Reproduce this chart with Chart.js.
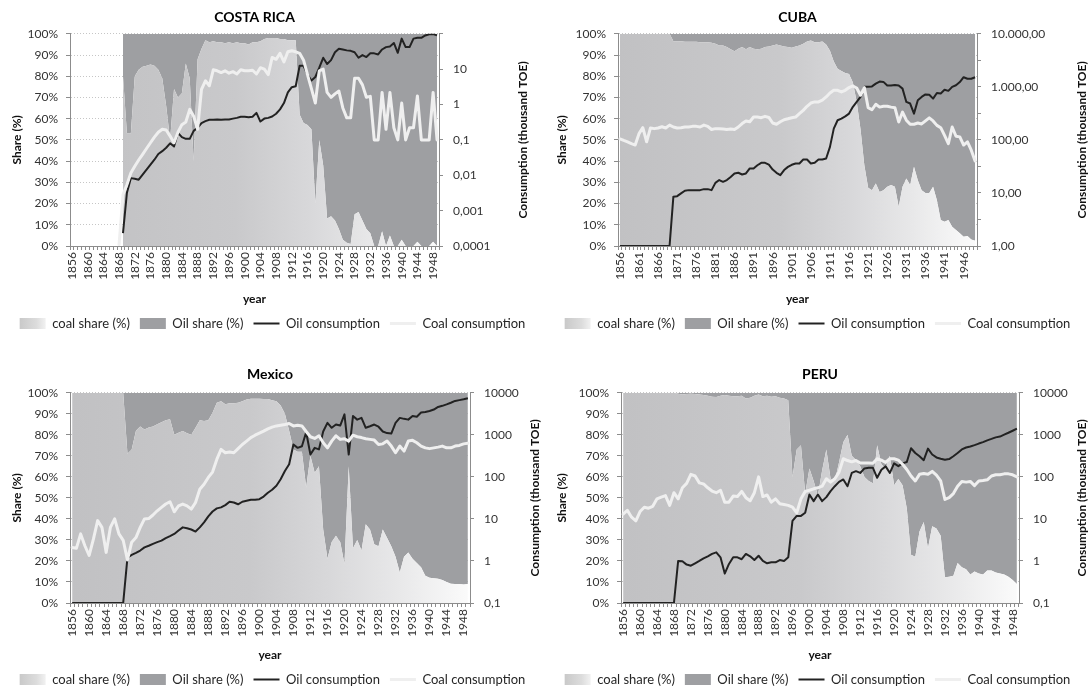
<!DOCTYPE html>
<html>
<head>
<meta charset="utf-8">
<script src="https://cdn.jsdelivr.net/npm/chart.js@4.4.1/dist/chart.umd.min.js"></script>
<style>
html,body{margin:0;padding:0;background:#fff;overflow:hidden;width:1090px;height:691px;}
.panel{position:absolute;}
canvas{display:block;}
</style>
</head>
<body>
<div class="panel" style="left:0;top:0;"><canvas id="cr" width="545" height="340"></canvas></div>
<div class="panel" style="left:545px;top:0;"><canvas id="cu" width="545" height="340"></canvas></div>
<div class="panel" style="left:0;top:345px;"><canvas id="mx" width="545" height="351"></canvas></div>
<div class="panel" style="left:545px;top:345px;"><canvas id="pe" width="545" height="351"></canvas></div>
<script>
// ---------- categories & tick labels ----------
const YEARS = ['1856','1857','1858','1859',
'1860','1861','1862','1863','1864','1865','1866','1867','1868','1869',
'1870','1871','1872','1873','1874','1875','1876','1877','1878','1879',
'1880','1881','1882','1883','1884','1885','1886','1887','1888','1889',
'1890','1891','1892','1893','1894','1895','1896','1897','1898','1899',
'1900','1901','1902','1903','1904','1905','1906','1907','1908','1909',
'1910','1911','1912','1913','1914','1915','1916','1917','1918','1919',
'1920','1921','1922','1923','1924','1925','1926','1927','1928','1929',
'1930','1931','1932','1933','1934','1935','1936','1937','1938','1939',
'1940','1941','1942','1943','1944','1945','1946','1947','1948','1949'];
const XTICKS_4 = ['1856','1860','1864','1868','1872','1876','1880','1884','1888','1892','1896','1900','1904','1908','1912','1916','1920','1924','1928','1932','1936','1940','1944','1948'];
const XTICKS_5 = ['1856','1861','1866','1871','1876','1881','1886','1891','1896','1901','1906','1911','1916','1921','1926','1931','1936','1941','1946'];
const SHARE_TICK_LABELS = ['0%','10%','20%','30%','40%','50%','60%','70%','80%','90%','100%'];
const CR_RIGHT_TICKS = [0.0001,0.001,0.01,0.1,1,10,100];
const CR_RIGHT_LABELS = ['0,0001','0,001','0,01','0,1','1','10',''];
const CU_RIGHT_TICKS = [1,3.1623,10,31.623,100,316.23,1000,3162.3,10000];
const CU_RIGHT_LABELS = ['1,00','','10,00','','100,00','','1.000,00','','10.000,00'];
const MP_RIGHT_TICKS = [0.1,1,10,100,1000,10000];
const MP_RIGHT_LABELS = ['0,1','1','10','100','1000','10000'];

// ---------- COSTA RICA ----------
const CR_COAL_SHARE = [null,null,null,null,
null,null,null,null,null,null,null,null,null,80,
53,53,80,83,84.5,85,85.5,85,83,79,
66,50,74,70,72,86,79,40,88,93,
97,96,96.5,96,96,95.5,96,95.5,96,95.5,
95.5,95,96,96,96.5,97.5,98,98,98,97.5,
97.5,97,97,97,62,58,57,55,20,50,
38,13,14,12,8,3,1.5,1,15,16,
12,8,6,0,0,7,0,5,0,0,
3,0,0,0,2,0,0,0,2,0];
const CR_OIL_SHARE = [null,null,null,null,
null,null,null,null,null,null,null,null,null,20,
47,47,20,17,15.5,15,14.5,15,17,21,
34,50,26,30,28,14,21,60,12,7,
3,4,3.5,4,4,4.5,4,4.5,4,4.5,
4.5,5,4,4,3.5,2.5,2,2,2,2.5,
2.5,3,3,3,38,42,43,45,80,50,
62,87,86,88,92,97,98.5,99,85,84,
88,92,94,100,100,93,100,95,100,100,
97,100,100,100,98,100,100,100,98,100];
const CR_OIL_CONS = [null,null,null,null,
null,null,null,null,null,null,null,null,null,0.00023,
0.0032,0.0083,0.008,0.0075,0.0104,0.0145,0.02,0.0275,0.04,0.048,
0.06,0.08,0.065,0.158,0.12,0.107,0.107,0.18,0.22,0.3,
0.34,0.37,0.37,0.38,0.37,0.38,0.38,0.4,0.42,0.45,
0.45,0.44,0.45,0.58,0.33,0.4,0.42,0.46,0.55,0.73,
1.1,2.2,3.1,3.3,12.5,12.5,7,4.8,6,11,
21,14,18,30,38,36,34,33,30,21,
25,22,28,28,26,36,42,44,55,29,
73,42,42,73,77,77,90,97,99,90];
const CR_COAL_CONS = [null,null,null,null,
null,null,null,null,null,null,null,null,0.00011,0.0028,
0.0054,0.0116,0.018,0.027,0.039,0.057,0.083,0.12,0.165,0.2,
0.19,0.128,0.083,0.165,0.27,0.32,0.73,0.47,0.2,2.7,
4.7,3.4,9.6,9,8,9,7.7,8.5,7.3,9.6,
9,9,9.3,7.3,11,10,7,21.5,19,28,
16,31,33,31,28,18,7,2.8,1.1,9,
10,2.2,1.6,2,2.4,0.8,0.42,0.42,5.5,5.5,
3.6,1.6,1.7,0.1,0.1,2.2,0.2,2.2,0.22,0.1,
1.1,0.1,0.22,0.22,1.75,0.1,0.1,0.1,2.2,0.1];

// ---------- CUBA ----------
const CU_COAL_SHARE = [100,100,100,100,
100,100,100,100,100,100,100,100,100,100,
96.5,96.5,96.5,96.3,96.3,96.2,96.2,96,96,96,
95.8,95.3,94.5,94.5,93.8,92.7,91.8,93,93.8,92.7,
93.8,93,92.7,93,93.8,94,94.5,95,94.5,94,
93.8,93.4,94,94.5,95.3,96.4,96.9,96,96,96.4,
95,92,87,83.5,82.5,81.5,81,77,68,55,
38,27.5,26.3,29.5,25.5,26.3,27.9,28.7,27.9,18.5,
27.9,31.8,28.7,37.3,31,26.3,25,25,27.9,21.6,
12.2,11.4,12.2,9.1,7.5,6,4.4,4.7,3.1,2.5];
const CU_OIL_SHARE = [0,0,0,0,
0,0,0,0,0,0,0,0,0,0,
3.5,3.5,3.5,3.7,3.7,3.8,3.8,4,4,4,
4.2,4.7,5.5,5.5,6.2,7.3,8.2,7,6.2,7.3,
6.2,7,7.3,7,6.2,6,5.5,5,5.5,6,
6.2,6.6,6,5.5,4.7,3.6,3.1,4,4,3.6,
5,8,13,16.5,17.5,18.5,19,23,32,45,
62,72.5,73.7,70.5,74.5,73.7,72.1,71.3,72.1,81.5,
72.1,68.2,71.3,62.7,69,73.7,75,75,72.1,78.4,
87.8,88.6,87.8,90.9,92.5,94,95.6,95.3,96.9,97.5];
const CU_OIL_CONS = [1,1,1,1,
1,1,1,1,1,1,1,1,1,1,
8.5,8.7,9.8,11,11.3,11.3,11.3,11.3,11.8,11.8,
11.3,15.5,17.5,16.2,17.5,20,23.3,24,22.3,23.3,
29,29,33.3,37,37,34.3,27.6,24,21.7,27,
31,34,36,36,42.6,42.6,36,37,42.6,42.6,
44.6,74,163,235,252,278,313,420,520,645,
1000,1000,1020,1150,1260,1240,1060,1060,1080,1060,
925,520,485,313,560,645,720,710,600,765,
750,880,840,1000,1070,1230,1520,1420,1420,1520];
const CU_COAL_CONS = [105,98,92,85,
80,131,170,92,168,163,168,177,168,190,
175,168,170,175,175,180,180,175,190,180,
157,163,163,160,157,160,157,175,203,228,
220,270,270,262,278,265,208,197,220,240,
250,262,270,313,360,430,495,520,520,560,
645,765,860,860,800,860,970,1040,950,695,
970,405,370,470,415,430,430,415,405,218,
335,235,197,197,208,200,228,260,228,188,
170,122,85,175,117,114,80,92,64,40];

// ---------- MEXICO ----------
const MX_COAL_SHARE = [100,100,100,100,
100,100,100,100,100,100,100,100,100,71,
73,82,84,82.5,83.5,84,85,86,87,87.4,
80,81,81.8,80.7,80,83.4,87,86.6,87,90.5,
95.3,96,94.5,95,95,95.3,96,96.8,97.2,97.2,
97.2,97,97,96.5,96,94,90,82,73,72,
72,55,70,62,65,35,21,29,32,29,
18.5,65,26,30,25,37.5,35,28,27,35,
31,27,22,14.5,22,24,21,19,17,13,
12,11.8,11.5,11,10,9.2,9,9,8.8,9];
const MX_OIL_SHARE = [0,0,0,0,
0,0,0,0,0,0,0,0,0,29,
27,18,16,17.5,16.5,16,15,14,13,12.6,
20,19,18.2,19.3,20,16.6,13,13.4,13,9.5,
4.7,4,5.5,5,5,4.7,4,3.2,2.8,2.8,
2.8,3,3,3.5,4,6,10,18,27,28,
28,45,30,38,35,65,79,71,68,71,
81.5,35,74,70,75,62.5,65,72,73,65,
69,73,78,85.5,78,76,79,81,83,87,
88,88.2,88.5,89,90,90.8,91,91,91.2,91];
const MX_OIL_CONS = [0.1,0.1,0.1,0.1,
0.1,0.1,0.1,0.1,0.1,0.1,0.1,0.1,0.1,1.2,
1.4,1.56,1.77,2.1,2.3,2.55,2.8,3.05,3.5,3.9,
4.4,5.3,6.3,6,5.6,5,6.3,8.3,11.5,15,
17.8,18.8,21.3,25.6,24.6,22.3,25.6,27,28.5,28.5,
29.5,34,42,49.5,61.5,88,138,200,590,490,
535,1150,340,490,450,1200,1930,1470,1760,1660,
3070,340,2800,2300,2530,1470,1600,1760,1560,1200,
1100,1070,1930,2530,2400,2300,2800,2700,3400,3500,
3700,4000,4600,4900,5300,5800,6400,6700,7000,7400];
const MX_COAL_CONS = [2.1,2.0,4.4,2.3,
1.35,3.3,9.1,6.3,1.6,6.3,10,4.4,3.1,1.06,
2.8,3.6,6.3,10,10.2,12.4,15.6,18.8,22.6,25.6,
14.8,20.5,22.6,20.5,17.1,24.6,51,67,97,130,
260,450,375,390,375,470,590,710,860,980,
1100,1230,1390,1530,1630,1690,1760,1860,1630,1700,
1630,1200,900,820,950,650,490,710,950,780,
810,710,980,900,860,810,780,750,590,610,
710,540,375,540,410,710,740,650,540,490,
470,490,510,540,490,490,540,560,610,630];

// ---------- PERU ----------
const PE_COAL_SHARE = [100,100,100,100,
100,100,100,100,100,100,100,100,100,99.5,
99.2,99.4,99.5,99.4,99.2,98.9,98.6,98.1,98,98.6,
98.9,98.6,98.4,98.4,98.6,97.3,97.6,98.6,99.2,98.4,
98.6,98.1,98.4,97.6,97.3,96.5,60,73,75,52,
64,58,51,63,73,59,58,67,76.5,80,
70,68,65,60,58,57,75,66,64,70,
56,59,56,45,23,22,34,38.5,26,36.5,
35.5,32,12.2,12.5,13,19,17,16,13.5,15,
14,13.5,15.5,15.5,14.5,14,13.5,12.5,11,9];
const PE_OIL_SHARE = [0,0,0,0,
0,0,0,0,0,0,0,0,0,0.5,
0.8,0.6,0.5,0.6,0.8,1.1,1.4,1.9,2,1.4,
1.1,1.4,1.6,1.6,1.4,2.7,2.4,1.4,0.8,1.6,
1.4,1.9,1.6,2.4,2.7,3.5,40,27,25,48,
36,42,49,37,27,41,42,33,23.5,20,
30,32,35,40,42,43,25,34,36,30,
44,41,44,55,77,78,66,61.5,74,63.5,
64.5,68,87.8,87.5,87,81,83,84,86.5,85,
86,86.5,84.5,84.5,85.5,86,86.5,87.5,89,91];
const PE_OIL_CONS = [0.1,0.1,0.1,0.1,
0.1,0.1,0.1,0.1,0.1,0.1,0.1,0.1,0.1,1.0,
0.98,0.82,0.77,0.88,1.0,1.15,1.29,1.47,1.6,1.22,
0.5,0.85,1.22,1.22,1.1,1.47,1.29,1.05,1.33,1.0,
0.88,0.93,0.93,1.05,1.0,1.22,9,11.8,11.8,14,
38,26.5,38,26.5,33,46,60,76,87,60,
124,137,124,159,164,164,95,148,178,124,
210,180,210,225,480,370,310,250,470,340,
290,270,255,265,310,370,450,500,530,570,
620,670,740,800,870,910,1010,1120,1250,1400];
const PE_COAL_CONS = [13,16,11,9,
15,19,18,20,30,33,36,21,42,30,
55,70,115,105,72,68,55,46,42,48,
25,25,35,34,45,32,27,42,100,34,
37,25,30,23,22,21,19,14,30,45,
48,52,55,60,90,75,90,130,270,245,
228,245,214,214,214,210,270,250,220,270,
270,250,200,150,105,80,115,120,115,135,
110,80,29,32,40,60,78,75,78,62,
80,82,85,105,112,112,118,118,112,100];

// ---------- drawing ----------
Chart.defaults.font.family = 'Lato, "Open Sans", sans-serif';
Chart.defaults.color = '#333';

function coalGradient(context) {
  const chart = context.chart;
  const a = chart.chartArea;
  if (!a) return '#c4c4c6';
  const g = chart.ctx.createLinearGradient(a.left, 0, a.right, 0);
  g.addColorStop(0, '#c1c1c3');
  g.addColorStop(0.45, '#c9c9cb');
  g.addColorStop(0.65, '#d8d8da');
  g.addColorStop(0.82, '#e8e8e9');
  g.addColorStop(1, '#fbfbfb');
  return g;
}

// right-hand axis title (rotated bottom-to-top) and gradient legend swatch
const panelExtrasPlugin = {
  id: 'panelExtras',
  beforeDraw(chart) {
    const lg = chart.legend;
    if (!lg || !lg.legendItems || !lg.legendHitBoxes) return;
    const idx = lg.legendItems.findIndex(it => it.text === 'coal share (%)');
    const hb = lg.legendHitBoxes[idx];
    if (idx < 0 || !hb) return;
    const g = chart.ctx.createLinearGradient(hb.left, 0, hb.left + 28, 0);
    g.addColorStop(0, '#c9c9c9');
    g.addColorStop(0.6, '#dcdcdc');
    g.addColorStop(1, '#f6f6f6');
    lg.legendItems[idx].fillStyle = g;
  },
  afterDraw(chart, args, opts) {
    const a = chart.chartArea, c = chart.ctx;
    c.save();
    c.translate(opts.x, (a.top + a.bottom) / 2);
    c.rotate(-Math.PI / 2);
    c.font = 'bold 12px Lato, "Open Sans", sans-serif';
    c.fillStyle = '#111';
    c.textAlign = 'center';
    c.textBaseline = 'middle';
    c.fillText(opts.text, 0, 0);
    c.restore();
  }
};

const AXIS_GRAY = '#8c8c8c';

function makeChart(P) {
  return new Chart(document.getElementById(P.id), {
    type: 'line',
    plugins: [panelExtrasPlugin],
    data: {
      labels: YEARS,
      datasets: [
        { label: 'Coal consumption', rank: 3, data: P.coalCons, yAxisID: 'y1', borderColor: '#efefef', backgroundColor: '#efefef',
          borderWidth: 3, pointRadius: 0, fill: false, pointStyle: 'line', borderJoinStyle: 'round', borderCapStyle: 'round', tension: 0 },
        { label: 'Oil consumption', rank: 2, data: P.oilCons, yAxisID: 'y1', borderColor: '#222222', backgroundColor: '#222222',
          borderWidth: 2, pointRadius: 0, fill: false, pointStyle: 'line', borderJoinStyle: 'round', tension: 0 },
        { label: 'coal share (%)', rank: 0, data: P.coalShare, yAxisID: 'y', backgroundColor: coalGradient, borderColor: 'rgba(0,0,0,0)',
          borderWidth: 0, pointRadius: 0, fill: 'origin', pointStyle: 'rect', tension: 0 },
        { label: 'Oil share (%)', rank: 1, data: P.oilShare, yAxisID: 'y', backgroundColor: '#9e9fa2', borderColor: 'rgba(0,0,0,0)',
          borderWidth: 0, pointRadius: 0, fill: '-1', pointStyle: 'rect', tension: 0 }
      ]
    },
    options: {
      responsive: false,
      animation: false,
      devicePixelRatio: 1,
      events: [],
      layout: { padding: 0 },
      plugins: {
        title: { display: true, fullSize: false, text: P.title, color: '#000', font: { size: 14, weight: 'bold' }, padding: { top: P.tTop, bottom: P.tBot } },
        legend: {
          display: true, position: 'bottom',
          labels: {
            usePointStyle: true, pointStyleWidth: 26, boxHeight: 11, padding: 10,
            font: { size: 13 }, color: '#262626',
            sort: (a, b, d) => d.datasets[a.datasetIndex].rank - d.datasets[b.datasetIndex].rank
          }
        },
        tooltip: { enabled: false },
        panelExtras: { x: P.rtX, text: 'Consumption (thousand TOE)' }
      },
      scales: {
        x: {
          type: 'category', offset: true,
          grid: { display: true, drawOnChartArea: false, drawTicks: true, tickLength: 4, color: AXIS_GRAY, tickColor: AXIS_GRAY, offset: true },
          border: { display: true, color: AXIS_GRAY },
          ticks: { autoSkip: false, minRotation: 90, maxRotation: 90, padding: 2, font: { size: 12 }, color: '#333',
                   callback: (v, i) => P.xTicks.includes(YEARS[i]) ? YEARS[i] : '' },
          title: { display: true, text: 'year', color: '#111', font: { size: 12, weight: 'bold' }, padding: { top: 0, bottom: 1 } },
          afterFit: s => { s.height = P.xH; }
        },
        y: {
          type: 'linear', position: 'left', stacked: true, min: 0, max: 100,
          grid: { display: true, drawOnChartArea: true, drawTicks: true, tickLength: 4, color: '#c6c6c6', tickColor: AXIS_GRAY },
          border: { display: true, color: AXIS_GRAY, dash: [1, 2] },
          ticks: { stepSize: 10, padding: 8, font: { size: 12 }, color: '#333', callback: (v, i) => SHARE_TICK_LABELS[i] },
          title: { display: true, text: 'Share (%)', color: '#111', font: { size: 12, weight: 'bold' }, padding: { top: 10, bottom: 0 } },
          afterFit: s => { s.width = P.plotLeft; }
        },
        y1: {
          type: 'logarithmic', position: 'right', min: P.yMin, max: P.yMax,
          grid: { display: true, drawOnChartArea: false, drawTicks: true, tickLength: 4, color: AXIS_GRAY, tickColor: AXIS_GRAY },
          border: { display: true, color: AXIS_GRAY },
          afterBuildTicks: s => { s.ticks = P.rTicks.map(v => ({ value: v })); },
          ticks: { autoSkip: false, padding: 10, font: { size: 12 }, color: '#333', callback: (v, i) => P.rLabels[i] },
          afterFit: s => { s.width = P.w - P.plotRight; }
        }
      }
    }
  });
}

makeChart({ id: 'cr', title: 'COSTA RICA', coalShare: CR_COAL_SHARE, oilShare: CR_OIL_SHARE, oilCons: CR_OIL_CONS, coalCons: CR_COAL_CONS,
  xTicks: XTICKS_4, rTicks: CR_RIGHT_TICKS, rLabels: CR_RIGHT_LABELS, yMin: 0.0001, yMax: 100,
  w: 545, plotLeft: 70, plotRight: 439, tTop: 9, tBot: 8, xH: 61, rtX: 523 });
makeChart({ id: 'cu', title: 'CUBA', coalShare: CU_COAL_SHARE, oilShare: CU_OIL_SHARE, oilCons: CU_OIL_CONS, coalCons: CU_COAL_CONS,
  xTicks: XTICKS_5, rTicks: CU_RIGHT_TICKS, rLabels: CU_RIGHT_LABELS, yMin: 1, yMax: 10000,
  w: 545, plotLeft: 73, plotRight: 432, tTop: 9, tBot: 8, xH: 61, rtX: 537 });
makeChart({ id: 'mx', title: 'Mexico', coalShare: MX_COAL_SHARE, oilShare: MX_OIL_SHARE, oilCons: MX_OIL_CONS, coalCons: MX_COAL_CONS,
  xTicks: XTICKS_4, rTicks: MP_RIGHT_TICKS, rLabels: MP_RIGHT_LABELS, yMin: 0.1, yMax: 10000,
  w: 545, plotLeft: 70, plotRight: 470, tTop: 21, tBot: 10, xH: 60, rtX: 535 });
makeChart({ id: 'pe', title: 'PERU', coalShare: PE_COAL_SHARE, oilShare: PE_OIL_SHARE, oilCons: PE_OIL_CONS, coalCons: PE_COAL_CONS,
  xTicks: XTICKS_4, rTicks: MP_RIGHT_TICKS, rLabels: MP_RIGHT_LABELS, yMin: 0.1, yMax: 10000,
  w: 545, plotLeft: 76, plotRight: 474, tTop: 21, tBot: 10, xH: 60, rtX: 537 });
</script>
</body>
</html>
